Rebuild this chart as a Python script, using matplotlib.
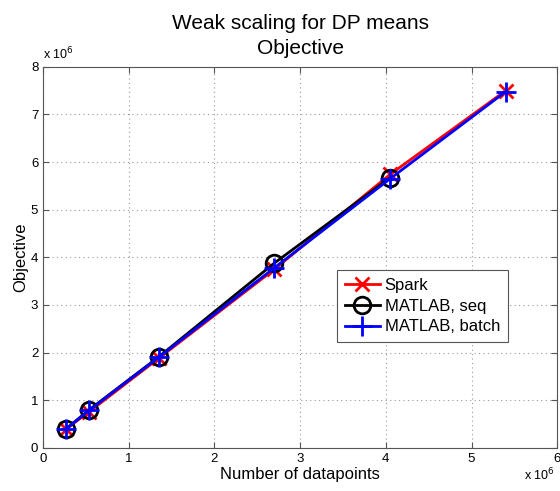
import matplotlib
matplotlib.use('Agg')
import matplotlib.pyplot as plt

plt.rcParams['font.family'] = ['Liberation Sans', 'DejaVu Sans']

# data in units of 1e6
n_spark = [0.27, 0.54, 1.35, 2.70, 4.05, 5.40]
obj_spark = [0.40, 0.76, 1.88, 3.75, 5.74, 7.50]

n_seq = [0.27, 0.54, 1.35, 2.70, 4.05]
obj_seq = [0.40, 0.80, 1.91, 3.88, 5.67]

n_batch = [0.27, 0.54, 1.35, 2.70, 4.05, 5.40]
obj_batch = [0.40, 0.79, 1.90, 3.78, 5.65, 7.48]

fig = plt.figure(figsize=(5.6, 4.91), dpi=100)
ax = fig.add_axes([0.077, 0.088, 0.918, 0.776])

ax.plot(n_spark, obj_spark, color='red', lw=2, marker='x', ms=10, mew=2, label='Spark')
ax.plot(n_seq, obj_seq, color='black', lw=2, marker='o', ms=12, mew=2, mfc='none', label='MATLAB, seq')
ax.plot(n_batch, obj_batch, color='blue', lw=2, marker='+', ms=14, mew=2, label='MATLAB, batch')

ax.set_xlim(0, 6)
ax.set_ylim(0, 8)
ax.set_xticks(range(0, 7))
ax.set_yticks(range(0, 9))
ax.tick_params(direction='in', labelsize=9.5, length=4, color='#555555', top=True, right=True)
ax.grid(True, linestyle=(0, (1, 3)), color='#999999', lw=0.8)
for s in ax.spines.values():
    s.set_color('#555555')

ax.text(0.0, 1.012, r'x 10$^6$', transform=ax.transAxes, fontsize=9, ha='left', va='bottom')
ax.text(0.995, -0.05, r'x 10$^6$', transform=ax.transAxes, fontsize=9, ha='right', va='top')

ax.set_xlabel('Number of datapoints', fontsize=12, labelpad=2)
ax.set_ylabel('Objective', fontsize=12, labelpad=2)
ax.set_title('Weak scaling for DP means\nObjective', fontsize=15, pad=9, linespacing=1.45)

leg = ax.legend(loc='lower left', bbox_to_anchor=(0.572, 0.278), mode=None,
                fontsize=12, fancybox=False, framealpha=1, edgecolor='#555555',
                handlelength=2.1, borderpad=0.45, labelspacing=0.35, handletextpad=0.3,
                borderaxespad=0)
leg.get_frame().set_linewidth(0.8)

fig.savefig('out.png', dpi=100)
